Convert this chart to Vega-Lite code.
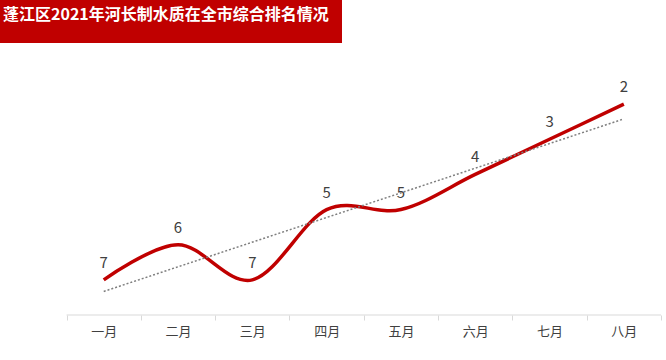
{
  "$schema": "https://vega.github.io/schema/vega-lite/v6.json",
  "padding": 0,
  "background": "white",
  "spacing": 26,
  "config": {"font": "Noto Sans CJK SC", "view": {"stroke": null}},
  "vconcat": [
    {
      "width": 342,
      "height": 43,
      "view": {"fill": "#C00000", "stroke": null},
      "title": {
        "text": "蓬江区2021年河长制水质在全市综合排名情况",
        "anchor": "start",
        "frame": "group",
        "offset": -31,
        "baseline": "middle",
        "color": "#ffffff",
        "fontSize": 16,
        "fontWeight": "bold",
        "font": "Noto Sans CJK SC",
        "dx": 3
      },
      "data": {"values": [{"t": ""}]},
      "mark": {"type": "text"},
      "encoding": {"text": {"field": "t", "type": "nominal"}}
    },
    {
      "width": 661,
      "height": 246,
      "data": {
        "values": [
          {"month": "一月", "rank": 7},
          {"month": "二月", "rank": 6},
          {"month": "三月", "rank": 7},
          {"month": "四月", "rank": 5},
          {"month": "五月", "rank": 5},
          {"month": "六月", "rank": 4},
          {"month": "七月", "rank": 3},
          {"month": "八月", "rank": 2}
        ]
      },
      "encoding": {
        "x": {
          "field": "month",
          "type": "nominal",
          "sort": null,
          "scale": {"type": "band", "paddingInner": 0, "paddingOuter": 0.448, "align": 1},
          "axis": {
            "title": null,
            "labelAngle": 0,
            "tickBand": "extent",
            "domain": false,
            "tickColor": "#d9d9d9",
            "tickSize": 5,
            "labelFontSize": 13,
            "labelColor": "#404040",
            "labelPadding": 5,
            "grid": false
          }
        },
        "y": {
          "field": "rank",
          "type": "quantitative",
          "scale": {"domain": [1, 8], "reverse": true},
          "axis": null
        }
      },
      "layer": [
        {
          "data": {"values": [{"base": 8}]},
          "mark": {"type": "rule", "color": "#d9d9d9", "strokeWidth": 1},
          "encoding": {
            "x": {"datum": "一月", "type": "nominal", "bandPosition": 0},
            "x2": {"value": "width"},
            "y": {"field": "base", "type": "quantitative"}
          }
        },
        {
          "mark": {"type": "line", "interpolate": "cardinal", "color": "#C00000", "strokeWidth": 3.5}
        },
        {
          "data": {"values": [{"month": "一月", "trend": 7.33}, {"month": "八月", "trend": 2.42}]},
          "mark": {"type": "line", "strokeDash": [2, 2], "color": "#7f7f7f", "strokeWidth": 1.5},
          "encoding": {"y": {"field": "trend", "type": "quantitative"}}
        },
        {
          "mark": {"type": "text", "dy": -17, "fontSize": 15, "color": "#404040"},
          "encoding": {"text": {"field": "rank", "type": "quantitative"}}
        }
      ]
    }
  ]
}
